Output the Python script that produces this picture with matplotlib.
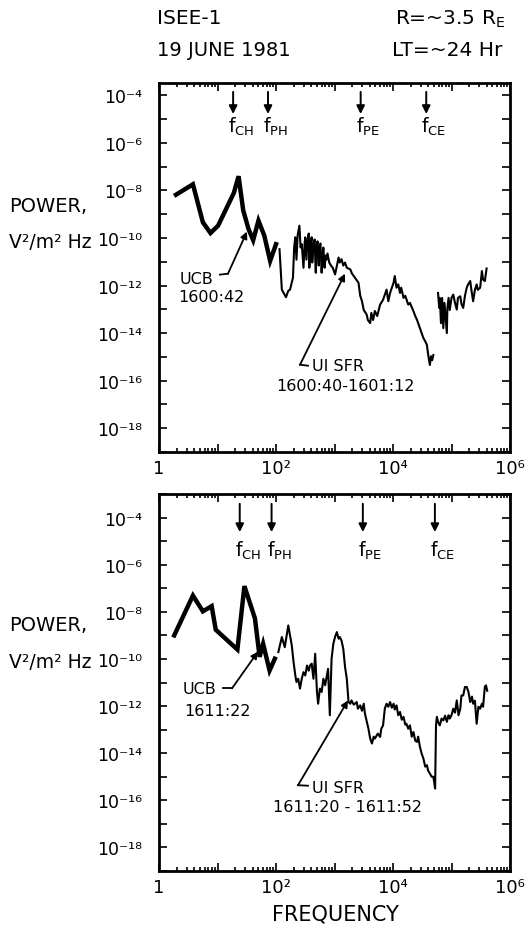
import numpy as np
import matplotlib.pyplot as plt
from matplotlib.ticker import FixedLocator, FuncFormatter, LogLocator, NullFormatter, NullLocator

plt.rcParams['font.family'] = ['DejaVu Sans']
plt.rcParams['mathtext.fontset'] = 'dejavusans'

# --- spectra: log10 frequency (Hz), log10 power (V^2/m^2 Hz) ---
# 1600 UT
ucb1_logf = [0.29, 0.58, 0.75, 0.88, 1.01, 1.28, 1.36, 1.44, 1.53, 1.61, 1.70, 1.80, 1.90, 2.00]
ucb1_logp = [-8.18, -7.74, -9.34, -9.79, -9.48, -8.10, -7.40, -8.84, -9.62, -10.09, -9.27, -9.90, -10.96, -10.26]

sfr1_logf = [2.06, 2.10, 2.14, 2.17, 2.21, 2.24, 2.29, 2.31, 2.33, 2.35,
             2.37, 2.40, 2.42, 2.44, 2.47, 2.49, 2.50, 2.52, 2.54, 2.56,
             2.57, 2.59, 2.61, 2.62, 2.64, 2.66, 2.68, 2.69, 2.71, 2.73,
             2.74, 2.76, 2.78, 2.80, 2.81, 2.83, 2.85, 2.86, 2.88, 2.91,
             2.94, 2.97, 3.01, 3.07, 3.09, 3.12, 3.15, 3.18, 3.21, 3.27,
             3.30, 3.35, 3.41, 3.44, 3.47, 3.50, 3.55, 3.57, 3.61, 3.63,
             3.66, 3.69, 3.73, 3.78, 3.83, 3.89, 3.92, 3.95, 3.98, 4.01,
             4.03, 4.06, 4.09, 4.12, 4.14, 4.18, 4.21, 4.26, 4.29, 4.35,
             4.38, 4.41, 4.43, 4.46, 4.49, 4.52, 4.55, 4.58, 4.60, 4.63,
             4.65, 4.67, 4.69, np.nan,
             4.77, 4.79, 4.80, 4.82, 4.84, 4.86, 4.88, 4.90, 4.92, 4.93,
             4.95, 4.97, 5.00, 5.03, 5.06, 5.09, 5.11, 5.15, 5.17, 5.20,
             5.23, 5.26, 5.28, 5.32, 5.34, 5.37, 5.40, 5.43, 5.45, 5.49,
             5.52, 5.54, 5.57, 5.60]
sfr1_logp = [-10.47, -12.17, -12.35, -12.49, -12.22, -12.17, -11.67, -10.40, -9.97, -10.91,
             -9.89, -9.48, -10.40, -10.26, -11.25, -10.19, -9.97, -10.91, -10.06, -9.81,
             -11.25, -10.19, -9.97, -11.03, -10.31, -10.06, -11.46, -10.40, -10.14, -11.16,
             -10.40, -10.23, -11.46, -10.61, -10.40, -11.25, -10.74, -10.91, -10.65, -11.03,
             -11.16, -11.25, -11.53, -10.82, -11.03, -10.89, -11.16, -11.03, -11.25, -11.32,
             -11.50, -11.67, -11.88, -12.43, -12.66, -13.03, -13.22, -13.45, -13.58, -13.15,
             -13.45, -13.07, -13.28, -12.80, -12.60, -12.17, -12.66, -12.31, -12.09, -11.88,
             -11.60, -12.09, -11.95, -12.31, -12.09, -12.52, -12.43, -12.80, -12.73, -13.08,
             -13.28, -13.44, -13.58, -13.79, -14.00, -14.21, -14.34, -14.50, -14.89, -15.34,
             -14.97, -15.14, -14.92, np.nan,
             -12.31, -12.94, -12.52, -13.58, -12.52, -13.79, -12.73, -13.36, -14.00, -12.94,
             -12.52, -13.03, -12.52, -12.38, -12.73, -13.01, -12.52, -12.45, -12.77, -12.94,
             -12.43, -12.09, -11.97, -11.81, -12.18, -12.66, -12.18, -11.95, -12.18, -12.09,
             -11.39, -11.75, -11.81, -11.28]

# 1611 UT
ucb2_logf = [0.26, 0.58, 0.75, 0.90, 0.97, 1.34, 1.46, 1.64, 1.72, 1.78, 1.89, 1.98]
ucb2_logp = [-9.00, -7.31, -7.98, -7.76, -8.76, -9.60, -6.91, -8.28, -9.91, -9.36, -10.49, -9.99]

sfr2_logf = [2.04, 2.10, 2.15, 2.21, 2.27, 2.30, 2.33, 2.35, 2.38, 2.41,
             2.44, 2.47, 2.50, 2.53, 2.56, 2.58, 2.61, 2.64, 2.67, 2.70,
             2.72, 2.75, 2.78, 2.81, 2.84, 2.89, 2.92, 2.95, 2.98, 3.01,
             3.04, 3.07, 3.09, 3.12, 3.15, 3.18, 3.21, 3.24, 3.27, 3.29,
             3.33, 3.38, 3.40, 3.44, 3.47, 3.50, 3.52, 3.58, 3.61, 3.64,
             3.67, 3.69, 3.74, 3.78, 3.80, 3.83, 3.86, 3.89, 3.92, 3.95,
             3.98, 4.01, 4.03, 4.06, 4.09, 4.12, 4.15, 4.18, 4.21, 4.23,
             4.26, 4.29, 4.32, 4.35, 4.38, 4.41, 4.43, 4.46, 4.49, 4.52,
             4.55, 4.58, 4.60, 4.63, 4.66, 4.69, 4.72, 4.735, 4.75, 4.77,
             4.80, 4.83, 4.86, 4.89, 4.92, 4.95, 4.97, 5.00, 5.03, 5.06,
             5.09, 5.12, 5.15, 5.17, 5.20, 5.23, 5.26, 5.29, 5.32, 5.35,
             5.37, 5.40, 5.43, 5.46, 5.49, 5.52, 5.54, 5.57, 5.59, 5.61]
sfr2_logp = [-9.71, -9.07, -9.50, -8.58, -9.43, -10.13, -10.70, -10.98, -10.84, -11.26,
             -10.84, -10.56, -10.70, -10.28, -10.50, -10.29, -10.20, -10.84, -9.78, -11.39,
             -11.90, -11.26, -11.40, -10.84, -11.12, -10.42, -12.39, -9.99, -9.36, -9.06,
             -8.86, -9.14, -9.07, -9.22, -9.57, -10.33, -10.84, -11.83, -11.90, -11.76,
             -11.94, -11.83, -12.11, -11.97, -12.20, -11.90, -12.32, -12.96, -13.38, -13.59,
             -13.30, -13.38, -13.17, -13.31, -12.96, -12.82, -12.11, -11.90, -12.03, -11.83,
             -12.07, -11.90, -12.15, -11.97, -12.39, -12.25, -12.58, -12.46, -12.79, -12.75,
             -12.96, -12.82, -13.30, -13.10, -13.47, -13.52, -13.30, -13.73, -14.02, -14.23,
             -14.57, -14.51, -14.74, -14.86, -15.00, -15.00, -15.50, -12.82, -12.46, -12.67,
             -12.82, -12.53, -12.61, -12.41, -12.67, -12.39, -12.53, -12.39, -12.11, -12.28,
             -11.76, -12.39, -12.11, -11.55, -11.55, -11.19, -11.19, -11.40, -11.83, -11.60,
             -11.90, -11.77, -12.75, -12.03, -12.11, -11.90, -12.03, -11.18, -11.12, -11.35]

# characteristic frequencies (Hz)
freq_names = ['CH', 'PH', 'PE', 'CE']
freqs1 = [18.5, 73, 2800, 37000]
freqs2 = [24, 84, 3050, 52000]

W, H = 526, 929
fig = plt.figure(figsize=(W / 100, H / 100), dpi=100)

SUP = str.maketrans('-0123456789', '⁻⁰¹²³⁴⁵⁶⁷⁸⁹')


def power_label(e):
    return '10' + str(e).translate(SUP)


def ytick_label(v, pos):
    e = int(round(np.log10(v)))
    return power_label(e) if e % 2 == 0 else ''


def xtick_label(v, pos):
    e = int(round(np.log10(v)))
    if e == 0:
        return '1'
    return power_label(e) if e % 2 == 0 else ''


def setup_axes(ax, ytop):
    ax.set_xscale('log')
    ax.set_yscale('log')
    ax.set_xlim(1, 1e6)
    ax.set_ylim(1e-19, 10 ** ytop)
    ax.xaxis.set_major_locator(FixedLocator([10.0 ** k for k in range(0, 7)]))
    ax.xaxis.set_minor_locator(LogLocator(base=10, subs=np.arange(2, 10), numticks=20))
    ax.xaxis.set_major_formatter(FuncFormatter(xtick_label))
    ax.xaxis.set_minor_formatter(NullFormatter())
    ax.yaxis.set_major_locator(FixedLocator([10.0 ** k for k in range(-19, -2)]))
    ax.yaxis.set_minor_locator(NullLocator())
    ax.yaxis.set_major_formatter(FuncFormatter(ytick_label))
    ax.tick_params(which='both', direction='in', top=True, right=True, width=1.2)
    ax.tick_params(axis='x', which='major', length=6, pad=5, labelsize=13)
    ax.tick_params(axis='x', which='minor', length=3)
    ax.tick_params(axis='y', which='major', length=6, pad=12, labelsize=12.5)
    for s in ax.spines.values():
        s.set_linewidth(2)


def draw_spectra(ax, ucb_logf, ucb_logp, sfr_logf, sfr_logp):
    ax.plot(10 ** np.array(ucb_logf), 10 ** np.array(ucb_logp), color='k', lw=3.2,
            solid_joinstyle='miter')
    ax.plot(10 ** np.array(sfr_logf), 10 ** np.array(sfr_logp), color='k', lw=1.5)


def draw_markers(ax, freqs, y_tail, y_tip, y_text):
    tr = ax.get_xaxis_transform()
    for name, f in zip(freq_names, freqs):
        ax.annotate('', xy=(f, y_tip), xytext=(f, y_tail), xycoords=tr,
                    arrowprops=dict(arrowstyle='-|>', color='k', lw=1.4,
                                    mutation_scale=12, shrinkA=0, shrinkB=0))
        ax.annotate(r'f$_{\mathregular{%s}}$' % name, xy=(f, y_text), xycoords=tr,
                    xytext=(-5, 0), textcoords='offset pixels',
                    ha='left', va='center', fontsize=13.5)


def leader(ax, p0, p1, p2):
    # short horizontal stub, then a line with an arrowhead at the spectrum
    ax.plot([p0[0], p1[0]], [p0[1], p1[1]], color='k', lw=1.3)
    ax.annotate('', xy=p2, xytext=p1,
                arrowprops=dict(arrowstyle='-|>', color='k', lw=1.3,
                                mutation_scale=10, shrinkA=0, shrinkB=0))


ax1 = fig.add_axes([159 / W, 1 - 453 / H, 351 / W, 369 / H])
ax2 = fig.add_axes([159 / W, 1 - 872 / H, 351 / W, 377 / H])

setup_axes(ax1, -3.48)
setup_axes(ax2, -3.0)

draw_spectra(ax1, ucb1_logf, ucb1_logp, sfr1_logf, sfr1_logp)
draw_spectra(ax2, ucb2_logf, ucb2_logp, sfr2_logf, sfr2_logp)

draw_markers(ax1, freqs1, 0.976, 0.916, 0.884)
draw_markers(ax2, freqs2, 0.974, 0.899, 0.851)

# labels on the top panel
ax1.text(10 ** 0.36, 10 ** -11.71, 'UCB', ha='left', va='center', fontsize=11.5)
ax1.text(10 ** 0.33, 10 ** -12.47, '1600:42', ha='left', va='center', fontsize=11.5)
leader(ax1, (11.0, 10 ** -11.54), (15.1, 10 ** -11.5), (31.9, 10 ** -9.73))
ax1.text(412, 10 ** -15.37, 'UI SFR', ha='left', va='center', fontsize=11.5)
ax1.text(1512, 10 ** -16.22, '1600:40-1601:12', ha='center', va='center', fontsize=11.5)
leader(ax1, (352, 10 ** -15.37), (257, 10 ** -15.33), (1512, 10 ** -11.5))

# labels on the bottom panel
ax2.text(10 ** 0.41, 10 ** -11.25, 'UCB', ha='left', va='center', fontsize=11.5)
ax2.text(10 ** 0.44, 10 ** -12.19, '1611:22', ha='left', va='center', fontsize=11.5)
leader(ax2, (12.4, 10 ** -11.25), (17.7, 10 ** -11.25), (49.2, 10 ** -9.69))
ax2.text(412, 10 ** -15.46, 'UI SFR', ha='left', va='center', fontsize=11.5)
ax2.text(1636, 10 ** -16.26, '1611:20 - 1611:52', ha='center', va='center', fontsize=11.5)
leader(ax2, (352, 10 ** -15.38), (238, 10 ** -15.36), (1702, 10 ** -11.76))

# header
fig.text(157 / W, 1 - 19 / H, 'ISEE-1', ha='left', va='center', fontsize=14.5)
fig.text(157 / W, 1 - 50 / H, '19 JUNE 1981', ha='left', va='center', fontsize=14)
fig.text(505 / W, 1 - 19 / H, r'R=~3.5 R$_{\mathregular{E}}$', ha='right', va='center', fontsize=14.5)
fig.text(502 / W, 1 - 50 / H, 'LT=~24 Hr', ha='right', va='center', fontsize=14.5)

# y-axis titles
for yc in (206, 626):
    fig.text(9 / W, 1 - yc / H, 'POWER,', ha='left', va='center', fontsize=14)
    fig.text(9 / W, 1 - (yc + 37) / H, 'V²/m² Hz', ha='left', va='center', fontsize=13.5)

fig.text(335 / W, 1 - 915 / H, 'FREQUENCY', ha='center', va='center', fontsize=15)

fig.savefig('out.png', dpi=100)
